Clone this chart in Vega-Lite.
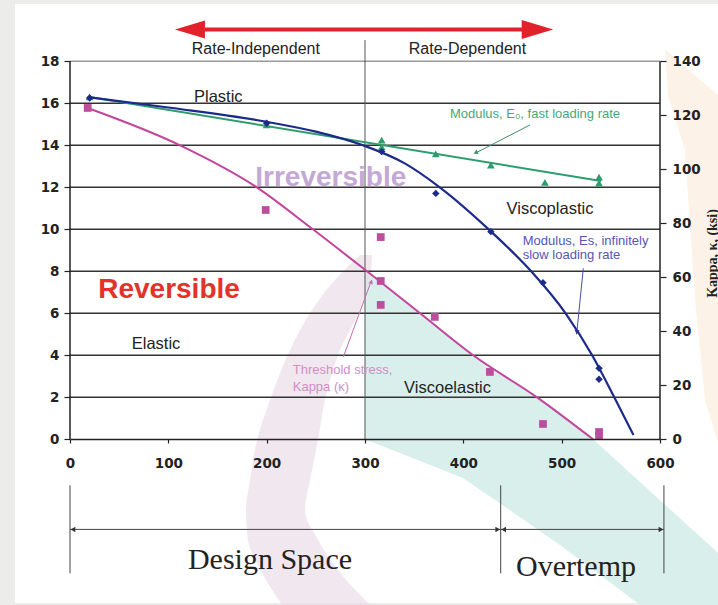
{
  "$schema": "https://vega.github.io/schema/vega-lite/v6.json",
  "width": 590,
  "height": 605,
  "autosize": {"type": "none"},
  "padding": {"left": 70, "right": 58, "top": 0, "bottom": 0},
  "background": "#ececea",
  "config": {"view": {"stroke": null}, "font": "Liberation Sans"},
  "datasets": {
    "bg": [{"x": -55.9, "x2": 659, "y": 20.73, "y2": -7.8}],
    "teal": [
      {"x": 300, "y": 8.0, "y2": -0.03},
      {"x": 307, "y": 7.75, "y2": -0.13},
      {"x": 356, "y": 6.0, "y2": -1.03},
      {"x": 399.7, "y": 4.36, "y2": -1.84},
      {"x": 410, "y": 4.0, "y2": -2.17},
      {"x": 475, "y": 2.0, "y2": -4.27},
      {"x": 498.3, "y": 1.2, "y2": -5.03},
      {"x": 532, "y": 0.0, "y2": -6.21},
      {"x": 579.7, "y": -2.03, "y2": -7.89},
      {"x": 600, "y": -2.9, "y2": -7.89},
      {"x": 659, "y": -5.4, "y2": -7.89}
    ],
    "pink": [
      {"y": 8.78, "x": 294.9, "x2": 307.1},
      {"y": 7.59, "x": 269.5, "x2": 305.1},
      {"y": 6.16, "x": 246.1, "x2": 295},
      {"y": 4.25, "x": 223.8, "x2": 274.6},
      {"y": 1.87, "x": 203.4, "x2": 259.3},
      {"y": -0.03, "x": 190.2, "x2": 252.2},
      {"y": -1.94, "x": 183.1, "x2": 244.1},
      {"y": -3.37, "x": 179, "x2": 239},
      {"y": -4.79, "x": 181, "x2": 252.2},
      {"y": -6.36, "x": 195.3, "x2": 274.6},
      {"y": -7.89, "x": 215.6, "x2": 305.1}
    ],
    "peach": [
      {"y": 18.54, "x": 605.1, "x2": 606},
      {"y": 16.4, "x": 608.1, "x2": 659},
      {"y": 13.78, "x": 625.4, "x2": 659},
      {"y": 6.63, "x": 635.6, "x2": 659},
      {"y": 1.87, "x": 645.8, "x2": 659},
      {"y": -0.03, "x": 658, "x2": 659}
    ],
    "grid": [
      {"y": 2, "x": 0, "x2": 600}, {"y": 4, "x": 0, "x2": 600}, {"y": 6, "x": 0, "x2": 600},
      {"y": 8, "x": 0, "x2": 600}, {"y": 10, "x": 0, "x2": 600}, {"y": 12, "x": 0, "x2": 600},
      {"y": 14, "x": 0, "x2": 600}, {"y": 16, "x": 0, "x2": 600}
    ],
    "grid18": [{"y": 18, "x": 0, "x2": 600}],
    "frame": [{"x": 0, "y": 0, "y2": 18}, {"x": 600, "y": 0, "y2": 18}],
    "divider": [{"x": 300, "y": 0, "y2": 19.01}],
    "redline": [{"x": 137, "x2": 460, "y": 19.52}],
    "redheadL": [{"x": 122, "y": 19.52}],
    "redheadR": [{"x": 475.4, "y": 19.52}],
    "dimv": [
      {"x": 0, "y": -2.19, "y2": -6.38},
      {"x": 438, "y": -2.19, "y2": -6.38},
      {"x": 604, "y": -2.19, "y2": -6.38}
    ],
    "dimh": [{"x": 0, "x2": 438, "y": -4.29}, {"x": 438, "x2": 604, "y": -4.29}],
    "dimL": [{"x": 3, "y": -4.29}, {"x": 441, "y": -4.29}],
    "dimR": [{"x": 435, "y": -4.29}, {"x": 601, "y": -4.29}],
    "green_fit": [{"x": 20, "y": 16.3}, {"x": 540, "y": 12.3}],
    "blue_fit": [
      {"x": 18, "y": 16.3}, {"x": 100, "y": 15.8}, {"x": 200, "y": 15.12}, {"x": 250, "y": 14.65},
      {"x": 298, "y": 14.0}, {"x": 340, "y": 13.15}, {"x": 376, "y": 12.0}, {"x": 428, "y": 9.9},
      {"x": 469, "y": 8.0}, {"x": 504, "y": 6.0}, {"x": 531, "y": 4.0}, {"x": 553.5, "y": 2.0},
      {"x": 573, "y": 0.2}
    ],
    "mag_fit": [
      {"x": 18, "y": 15.78}, {"x": 112, "y": 14.0}, {"x": 190, "y": 12.0}, {"x": 247, "y": 10.0},
      {"x": 302, "y": 8.0}, {"x": 356, "y": 6.0}, {"x": 410, "y": 4.0}, {"x": 475, "y": 2.0},
      {"x": 532, "y": 0.0}
    ],
    "green_pts": [
      {"x": 20, "y": 16.31}, {"x": 200, "y": 14.97}, {"x": 317, "y": 14.25}, {"x": 317, "y": 13.92},
      {"x": 372, "y": 13.59}, {"x": 428, "y": 13.06}, {"x": 483, "y": 12.24}, {"x": 538, "y": 12.49},
      {"x": 538, "y": 12.2}
    ],
    "blue_pts": [
      {"x": 20, "y": 16.25}, {"x": 200, "y": 15.05}, {"x": 317, "y": 13.7}, {"x": 372, "y": 11.71},
      {"x": 428, "y": 9.89}, {"x": 481, "y": 7.46}, {"x": 538, "y": 3.38}, {"x": 538, "y": 2.86}
    ],
    "mag_pts": [
      {"x": 18, "y": 15.78}, {"x": 199, "y": 10.92}, {"x": 316, "y": 9.63}, {"x": 316, "y": 7.54},
      {"x": 316, "y": 6.4}, {"x": 371, "y": 5.83}, {"x": 427, "y": 3.21}, {"x": 481, "y": 0.73},
      {"x": 538, "y": 0.35}, {"x": 538, "y": 0.16}
    ],
    "ann_green": [{"x": 467.8, "y": 14.97, "x2": 411.9, "y2": 13.62}],
    "ann_green_head": [{"x": 412.5, "y": 13.65}],
    "ann_blue": [{"x": 522, "y": 8.14, "x2": 515.2, "y2": 5.0}],
    "ann_blue_head": [{"x": 515.4, "y": 5.1}],
    "ann_pink": [{"x": 278, "y": 3.93, "x2": 306.8, "y2": 7.59}],
    "ann_pink_head": [{"x": 306.4, "y": 7.5}],
    "labels": [
      {"kind": "rate", "text": "Rate-Independent", "x": 189, "y": 18.6},
      {"kind": "rate", "text": "Rate-Dependent", "x": 404.2, "y": 18.6},
      {"kind": "region", "text": "Plastic", "x": 150.8, "y": 16.31},
      {"kind": "region", "text": "Elastic", "x": 87.5, "y": 4.54},
      {"kind": "region", "text": "Viscoplastic", "x": 488.1, "y": 10.95},
      {"kind": "region", "text": "Viscoelastic", "x": 383.9, "y": 2.43},
      {"kind": "rev", "text": "Reversible", "x": 100.7, "y": 7.11},
      {"kind": "irr", "text": "Irreversible", "x": 265.2, "y": 12.43},
      {"kind": "green", "text": "Modulus, E₀, fast loading rate", "x": 472.9, "y": 15.49},
      {"kind": "blue", "text": "Modulus, Es, infinitely", "x": 460.4, "y": 9.46},
      {"kind": "blue", "text": "slow loading rate", "x": 460.4, "y": 8.76},
      {"kind": "pink", "text": "Threshold stress,", "x": 226.5, "y": 3.3},
      {"kind": "pink", "text": "Kappa (κ)", "x": 226.5, "y": 2.5},
      {"kind": "design", "text": "Design Space", "x": 203.4, "y": -5.75},
      {"kind": "design", "text": "Overtemp", "x": 514.6, "y": -6.07}
    ],
    "rightaxis": [{"y": 0, "y2": 140}]
  },
  "layer": [
    {
      "encoding": {
        "x": {
          "field": "x", "type": "quantitative",
          "scale": {"domain": [0, 600], "nice": false, "zero": false},
          "axis": {
            "values": [0, 100, 200, 300, 400, 500, 600], "offset": -166, "title": null, "zindex": 1,
            "grid": false, "domain": true, "domainColor": "#222", "domainWidth": 1.5,
            "tickSize": 4, "tickColor": "#222", "tickWidth": 1.2, "labelFlush": false,
            "labelFont": "DejaVu Sans", "labelFontWeight": "bold", "labelFontSize": 13.5,
            "labelColor": "#222", "labelPadding": 13
          }
        },
        "y": {
          "field": "y", "type": "quantitative",
          "scale": {"domain": [-7.89, 20.92], "nice": false, "zero": false},
          "axis": {
            "values": [0, 2, 4, 6, 8, 10, 12, 14, 16, 18], "title": null, "grid": false, "zindex": 1,
            "domain": false, "tickSize": 6, "tickColor": "#222", "tickWidth": 1.2,
            "labelFont": "DejaVu Sans", "labelFontWeight": "bold", "labelFontSize": 13.5,
            "labelColor": "#222", "labelPadding": 5
          }
        }
      },
      "layer": [
        {"data": {"name": "bg"}, "mark": {"type": "rect", "color": "#ffffff"},
         "encoding": {"x2": {"field": "x2"}, "y2": {"field": "y2"}}},
        {"data": {"name": "teal"}, "mark": {"type": "area", "color": "#d6eeeb", "opacity": 0.95},
         "encoding": {"y2": {"field": "y2"}}},
        {"data": {"name": "pink"}, "mark": {"type": "area", "orient": "horizontal", "color": "#e9dae6", "opacity": 0.65, "interpolate": "monotone"},
         "encoding": {"x2": {"field": "x2"}}},
        {"data": {"name": "peach"}, "mark": {"type": "area", "orient": "horizontal", "color": "#fdf2e7"},
         "encoding": {"x2": {"field": "x2"}}},
        {"data": {"name": "grid"}, "mark": {"type": "rule", "color": "#333333", "strokeWidth": 1.4},
         "encoding": {"x2": {"field": "x2"}}},
        {"data": {"name": "grid18"}, "mark": {"type": "rule", "color": "#9a9a9a", "strokeWidth": 1.4},
         "encoding": {"x2": {"field": "x2"}}},
        {"data": {"name": "frame"}, "mark": {"type": "rule", "color": "#222222", "strokeWidth": 1.5},
         "encoding": {"y2": {"field": "y2"}}},
        {"data": {"name": "divider"}, "mark": {"type": "rule", "color": "#555555", "strokeWidth": 1},
         "encoding": {"y2": {"field": "y2"}}},
        {"data": {"name": "redline"}, "mark": {"type": "rule", "color": "#e3212b", "strokeWidth": 4},
         "encoding": {"x2": {"field": "x2"}}},
        {"data": {"name": "redheadL"}, "mark": {"type": "point", "shape": "M1,-0.6L-1,0L1,0.6Z", "size": 900, "filled": true, "color": "#e3212b", "opacity": 1}},
        {"data": {"name": "redheadR"}, "mark": {"type": "point", "shape": "M-1,-0.6L1,0L-1,0.6Z", "size": 1000, "filled": true, "color": "#e3212b", "opacity": 1}},
        {"data": {"name": "dimv"}, "mark": {"type": "rule", "color": "#444444", "strokeWidth": 1},
         "encoding": {"y2": {"field": "y2"}}},
        {"data": {"name": "dimh"}, "mark": {"type": "rule", "color": "#444444", "strokeWidth": 1},
         "encoding": {"x2": {"field": "x2"}}},
        {"data": {"name": "dimL"}, "mark": {"type": "point", "shape": "triangle-left", "size": 30, "filled": true, "color": "#333333", "opacity": 1}},
        {"data": {"name": "dimR"}, "mark": {"type": "point", "shape": "triangle-right", "size": 30, "filled": true, "color": "#333333", "opacity": 1}},
        {"data": {"name": "green_fit"}, "mark": {"type": "line", "color": "#2f9c6e", "strokeWidth": 2}},
        {"data": {"name": "blue_fit"}, "mark": {"type": "line", "color": "#1c2a8a", "strokeWidth": 2.2, "interpolate": "monotone"}},
        {"data": {"name": "mag_fit"}, "mark": {"type": "line", "color": "#c2449b", "strokeWidth": 2, "interpolate": "monotone"}},
        {"data": {"name": "green_pts"}, "mark": {"type": "point", "shape": "triangle-up", "size": 60, "filled": true, "color": "#2f9c6e", "opacity": 1}},
        {"data": {"name": "blue_pts"}, "mark": {"type": "point", "shape": "diamond", "size": 55, "filled": true, "color": "#1c2a8a", "opacity": 1}},
        {"data": {"name": "mag_pts"}, "mark": {"type": "point", "shape": "square", "size": 60, "filled": true, "color": "#bb4f9e", "opacity": 1}},
        {"data": {"name": "ann_green"}, "mark": {"type": "rule", "color": "#3f8f66", "strokeWidth": 1},
         "encoding": {"x2": {"field": "x2"}, "y2": {"field": "y2"}}},
        {"data": {"name": "ann_green_head"}, "mark": {"type": "point", "shape": "triangle-up", "size": 25, "angle": 243, "filled": true, "color": "#3f8f66", "opacity": 1}},
        {"data": {"name": "ann_blue"}, "mark": {"type": "rule", "color": "#4a4fa8", "strokeWidth": 1},
         "encoding": {"x2": {"field": "x2"}, "y2": {"field": "y2"}}},
        {"data": {"name": "ann_blue_head"}, "mark": {"type": "point", "shape": "triangle-up", "size": 25, "angle": 186, "filled": true, "color": "#2a3290", "opacity": 1}},
        {"data": {"name": "ann_pink"}, "mark": {"type": "rule", "color": "#c070b0", "strokeWidth": 1},
         "encoding": {"x2": {"field": "x2"}, "y2": {"field": "y2"}}},
        {"data": {"name": "ann_pink_head"}, "mark": {"type": "point", "shape": "triangle-up", "size": 22, "angle": 20, "filled": true, "color": "#c070b0", "opacity": 1}},
        {"data": {"name": "labels"}, "transform": [{"filter": "datum.kind === 'rate'"}],
         "mark": {"type": "text", "font": "Liberation Sans", "fontSize": 16, "color": "#222222", "align": "center", "baseline": "middle"},
         "encoding": {"text": {"field": "text"}}},
        {"data": {"name": "labels"}, "transform": [{"filter": "datum.kind === 'region'"}],
         "mark": {"type": "text", "font": "Liberation Sans", "fontSize": 16.5, "color": "#222222", "align": "center", "baseline": "middle"},
         "encoding": {"text": {"field": "text"}}},
        {"data": {"name": "labels"}, "transform": [{"filter": "datum.kind === 'rev'"}],
         "mark": {"type": "text", "font": "Liberation Sans", "fontSize": 28, "fontWeight": "bold", "color": "#e3322a", "align": "center", "baseline": "middle"},
         "encoding": {"text": {"field": "text"}}},
        {"data": {"name": "labels"}, "transform": [{"filter": "datum.kind === 'irr'"}],
         "mark": {"type": "text", "font": "Liberation Sans", "fontSize": 28, "fontWeight": "bold", "color": "#c4a8d6", "align": "center", "baseline": "middle"},
         "encoding": {"text": {"field": "text"}}},
        {"data": {"name": "labels"}, "transform": [{"filter": "datum.kind === 'green'"}],
         "mark": {"type": "text", "font": "Liberation Sans", "fontSize": 13, "color": "#45a878", "align": "center", "baseline": "middle"},
         "encoding": {"text": {"field": "text"}}},
        {"data": {"name": "labels"}, "transform": [{"filter": "datum.kind === 'blue'"}],
         "mark": {"type": "text", "font": "Liberation Sans", "fontSize": 13, "color": "#5656b4", "align": "left", "baseline": "middle"},
         "encoding": {"text": {"field": "text"}}},
        {"data": {"name": "labels"}, "transform": [{"filter": "datum.kind === 'pink'"}],
         "mark": {"type": "text", "font": "Liberation Sans", "fontSize": 13, "color": "#d08ec6", "align": "left", "baseline": "middle"},
         "encoding": {"text": {"field": "text"}}},
        {"data": {"name": "labels"}, "transform": [{"filter": "datum.kind === 'design'"}],
         "mark": {"type": "text", "font": "Liberation Serif", "fontSize": 30, "color": "#222222", "align": "center", "baseline": "middle"},
         "encoding": {"text": {"field": "text"}}}
      ]
    },
    {
      "data": {"name": "rightaxis"},
      "mark": {"type": "rule", "opacity": 0},
      "encoding": {
        "y": {
          "field": "y", "type": "quantitative",
          "scale": {"domain": [-61.37, 162.71], "nice": false, "zero": false},
          "axis": {
            "orient": "right", "values": [0, 20, 40, 60, 80, 100, 120, 140], "grid": false, "zindex": 1,
            "domain": false, "tickSize": 6, "tickColor": "#222", "tickWidth": 1.2,
            "labelFont": "DejaVu Sans", "labelFontWeight": "bold", "labelFontSize": 13.5,
            "labelColor": "#222", "labelPadding": 6,
            "title": "Kappa, κ, (ksi)", "titleFont": "Liberation Serif", "titleFontWeight": "bold",
            "titleFontSize": 14, "titleColor": "#222", "titleAngle": 270, "titleX": 52, "titleY": 253,
            "titleAlign": "center", "titleBaseline": "middle"
          }
        },
        "y2": {"field": "y2"}
      }
    }
  ],
  "resolve": {"scale": {"y": "independent"}}
}
